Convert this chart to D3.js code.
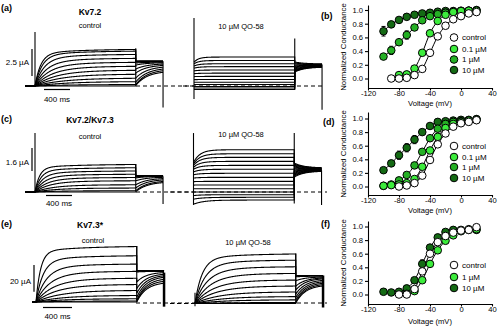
<!DOCTYPE html>
<html><head><meta charset="utf-8">
<script src="https://cdn.jsdelivr.net/npm/d3@7"></script>
<style>body{margin:0;background:#fff} svg{display:block;font-family:"Liberation Sans",Arial,sans-serif}</style>
</head><body><svg id="fig" width="500" height="328"></svg>
<script>
// ================= DATA: conductance-voltage (b, d, f) =================
const voltages = [-100,-90,-80,-70,-60,-50,-40,-30,-20,-10,0,10,20];
const xTicks = [-120,-80,-40,0,40];
const yTicks = [0,0.2,0.4,0.6,0.8,1.0];

const gvB_control = [null,0.0,0.0,0.01,0.05,0.14,0.375,0.615,0.77,0.865,0.91,0.95,0.97];
const gvB_01uM    = [null,null,0.05,0.06,0.145,0.375,0.66,0.84,0.93,0.97,0.985,0.99,0.99];
const gvB_1uM     = [0.32,0.41,0.53,0.635,0.745,0.85,0.91,0.94,0.96,0.975,0.98,0.99,1.0];
const gvB_10uM    = [0.69,0.79,0.855,0.90,0.93,0.95,0.96,0.975,0.985,0.985,0.99,0.99,0.99];
const errB_1uM    = [0.05,0.06,0.04,0.06,0.04,0.03,0.02,0.02,0.01,0.01,0.01,0.01,0.01];
const errB_10uM   = [0.07,0.03,0.03,0.02,0.02,0.02,0.01,0.01,0.01,0.01,0.01,0.01,0.01];

const gvD_control = [null,null,0.0,0.015,0.05,0.16,0.39,0.62,0.78,0.88,0.93,0.95,0.975];
const gvD_01uM    = [0.01,0.02,0.03,0.05,0.11,0.29,0.53,0.73,0.86,0.92,0.95,0.97,0.98];
const gvD_1uM     = [0.01,0.03,0.09,0.17,0.31,0.51,0.71,0.85,0.92,0.95,0.96,0.97,0.99];
const gvD_10uM    = [0.24,0.34,0.46,0.57,0.69,0.80,0.89,0.95,0.96,0.97,0.98,0.98,0.99];
const errD_10uM   = [0.04,0.05,0.06,0.06,0.06,0.04,0.03,0.02,0.01,0.01,0.01,0.01,0.01];

const gvF_control = [null,null,0.0,0.0,0.08,0.34,0.60,0.77,0.86,0.91,0.94,0.95,0.99];
const gvF_1uM     = [null,null,null,0.01,0.05,0.21,0.45,0.65,0.79,0.87,0.93,0.95,0.96];
const gvF_10uM    = [0.04,0.03,0.04,0.09,0.21,0.45,0.69,0.84,0.92,0.95,0.95,0.96,0.95];
const errF_10uM   = [0.01,0.01,0.01,0.02,0.03,0.06,0.04,0.03,0.02,0.01,0.01,0.01,0.01];

const legendB = ["control","0.1 \u00b5M","1 \u00b5M","10 \u00b5M"];
const legendD = ["control","0.1 \u00b5M","1 \u00b5M","10 \u00b5M"];
const legendF = ["control","1 \u00b5M","10 \u00b5M"];

// ================= DATA: current traces (a, c, e) =================
// protocol (ms)
const stepDur = 1550, tailDur = 420, slowTau = 700;
// Kv7.2 control (uA)
const a_ctrl_ss    = [3.43,3.27,2.96,2.59,2.22,1.85,1.48,1.11,0.74,0.42,0.14,0.0];
const a_ctrl_tau   = [90,110,140,175,215,260,310,360,420,480,520,550];
const a_ctrl_tail0 = [2.31,2.31,2.27,2.22,2.13,1.94,1.57,1.20,0.74,0.37,0.14,0.05];
const a_ctrl_tail1 = [2.31,2.31,2.29,2.27,2.22,2.17,2.08,1.98,1.85,1.70,1.55,1.40];
const a_ctrl_spikes = [[0,5.0,0],[1550,3.5,0.1],[1970,2.3,-2.0]];
// Kv7.2 10 uM QO-58
const a_qo_ss    = [2.68,2.36,2.06,1.79,1.48,1.19,0.89,0.60,0.35,0.14,-0.05,-0.19,-0.32];
const a_qo_init  = [2.20,2.05,1.85,1.65,1.40,1.14,0.87,0.59,0.35,0.14,-0.05,-0.19,-0.32];
const a_qo_tau   = [70,75,80,85,90,90,90,90,90,90,90,90,90];
const a_qo_tail0 = [2.22,2.13,2.04,1.94,1.85,1.76,1.67,1.57,1.48,1.43,1.39,1.34,1.30];
const a_qo_tail1 = [2.04,2.00,1.98,1.96,1.94,1.92,1.90,1.87,1.85,1.83,1.81,1.79,1.76];
const a_qo_spikes = [[0,6.3,-1.2],[1550,4.4,-0.3],[1970,2.0,-2.2]];
// Kv7.2/Kv7.3 control
const c_ctrl_ss    = [1.94,1.71,1.48,1.25,1.02,0.79,0.51,0.28,0.09,0.0];
const c_ctrl_tau   = [70,90,115,145,180,220,270,320,380,420];
const c_ctrl_tail0 = [1.15,1.13,1.10,1.06,0.98,0.78,0.50,0.28,0.09,0.02];
const c_ctrl_tail1 = [1.15,1.14,1.13,1.12,1.10,1.05,0.98,0.90,0.80,0.72];
const c_ctrl_spikes = [[0,4.1,0],[1550,1.94,0.05],[1970,1.1,-0.83]];
// Kv7.2/Kv7.3 10 uM QO-58
const c_qo_ss    = [2.94,2.66,2.41,2.13,1.85,1.58,1.30,1.02,0.74,0.49,0.23,0,-0.19,-0.37,-0.56];
const c_qo_init  = [2.05,1.95,1.85,1.72,1.58,1.40,1.20,0.97,0.72,0.48,0.23,0,-0.25,-0.50,-0.85];
const c_qo_tau   = [100,100,100,100,100,100,100,100,100,100,100,100,120,140,160];
const c_qo_tail0 = [2.01,1.94,1.88,1.81,1.74,1.67,1.60,1.53,1.46,1.39,1.32,1.25,1.18,1.11,1.04];
const c_qo_tail1 = [1.67,1.66,1.64,1.63,1.61,1.60,1.58,1.57,1.55,1.54,1.52,1.51,1.49,1.48,1.46];
const c_qo_spikes = [[0,4.1,-0.9],[1550,4.1,-0.8],[1970,1.5,-0.9]];
// Kv7.3* control
const e_ctrl_ss    = [42,35,28.7,23.2,18,13.3,8.8,5,2.5,0.75,0];
const e_ctrl_tau   = [70,110,160,210,260,310,360,400,440,480,500];
const e_ctrl_tail0 = [23.5,23.3,23,22.5,15,10,6.5,3.5,1.5,0.5,0];
const e_ctrl_tail1 = [23.5,23.5,23.3,23,22.5,21.5,20.5,19.5,18,16.5,15];
const e_ctrl_spikes = [[1550,42,0],[1970,22,-3.5]];
// Kv7.3* 10 uM QO-58
const e_qo_ss    = [37.5,32.8,27.8,22.8,17.8,13.3,8.8,5.3,2.8,0.75,0];
const e_qo_tau   = [110,150,190,230,270,310,350,390,430,470,500];
const e_qo_tail0 = [21,20.5,20,17,13,10,7,4.5,2.5,1,0.3];
const e_qo_tail1 = [21,20.8,20.5,20,19.5,19,18,17,16,15,14];
const e_qo_spikes = [[0,8,-2],[1550,37.5,0],[1970,21,-3]];

// ================= DRAWING =================
const svg = d3.select('#fig');
svg.append('rect').attr('width',500).attr('height',328).attr('fill','#fff');
const WHITE='#ffffff', LIGHT='#3cec3c', MED='#24b024', DARK='#146a14';

function drawTraces(p){
  const tx = d3.scaleLinear().domain([0,400]).range([p.x0, p.x0+26]);
  const iy = d3.scaleLinear().domain([0,p.barUA]).range([p.base, p.base-p.barPx]);
  const g = svg.append('g').attr('fill','none').attr('stroke','#000');
  const line = d3.line().x(d=>tx(d[0])).y(d=>iy(d[1]));
  p.ss.forEach((ss,i)=>{
    const init = p.init ? p.init[i] : 0;
    const tau = p.tau[i];
    const pts = [];
    if (p.hold) pts.push([-p.hold, 0]), pts.push([0,0]);
    for (let t=0;t<=stepDur;t+=5){
      const f = p.slow*Math.exp(-t/slowTau) + (1-p.slow)*Math.exp(-t/tau);
      pts.push([t, ss-(ss-init)*f]);
    }
    const a0=p.tail0[i], a1=p.tail1[i];
    for (let t=0;t<=tailDur;t+=5) pts.push([stepDur+t, a1+(a0-a1)*Math.exp(-t/p.tailTau)]);
    g.append('path').attr('d',line(pts)).attr('stroke-width',1.1);
  });
  p.spikes.forEach((s,k)=>{
    g.append('line').attr('x1',tx(s[0])).attr('x2',tx(s[0]))
      .attr('y1',iy(s[1])).attr('y2',iy(s[2])).attr('stroke-width', p.spikeW ? p.spikeW[k] : 1.1);
  });
  return {tx, iy};
}

function dashed(x1,x2,y){
  svg.append('line').attr('x1',x1).attr('x2',x2).attr('y1',y).attr('y2',y)
    .attr('stroke','#000').attr('stroke-width',1).attr('stroke-dasharray','4,3');
}
function scaleBar(xv, yTop, yBot, xh1, xh2, yh, vLabel, vLabelY, hLabelY){
  svg.append('line').attr('x1',xv).attr('x2',xv).attr('y1',yTop).attr('y2',yBot).attr('stroke','#000').attr('stroke-width',1.2);
  svg.append('line').attr('x1',xh1).attr('x2',xh2).attr('y1',yh).attr('y2',yh).attr('stroke','#000').attr('stroke-width',1.2);
  svg.append('text').attr('x',xv-3).attr('y',vLabelY).attr('text-anchor','end').attr('font-size',8).text(vLabel);
  svg.append('text').attr('x',(xh1+xh2)/2).attr('y',hLabelY).attr('text-anchor','middle').attr('font-size',8).text('400 ms');
}
function txt(x,y,s,opt={}){
  svg.append('text').attr('x',x).attr('y',y).attr('text-anchor',opt.anchor||'middle')
    .attr('font-size',opt.size||7.5).attr('font-weight',opt.bold?'bold':'normal').text(s);
}

// ---- Row a
const baseA = 86;
dashed(136, 322, baseA);
drawTraces({x0:35, base:baseA, barUA:2.5, barPx:27, hold:150, slow:0.12, ss:a_ctrl_ss, tau:a_ctrl_tau, tail0:a_ctrl_tail0, tail1:a_ctrl_tail1, tailTau:180, spikes:a_ctrl_spikes});
drawTraces({x0:194, base:baseA, barUA:2.5, barPx:27, slow:0.0, ss:a_qo_ss, init:a_qo_init, tau:a_qo_tau, tail0:a_qo_tail0, tail1:a_qo_tail1, tailTau:150, spikes:a_qo_spikes});
dashed(183, 194, baseA);
scaleBar(32, 49, 76, 44, 70, 89.5, '2.5 \u00b5A', 65, 102);
txt(90, 15, 'Kv7.2', {bold:true, size:8.5});
txt(90, 28, 'control');
txt(241, 29, '10 \u00b5M QO-58');
txt(1, 11, '(a)', {anchor:'start', bold:true, size:9});
txt(321, 19, '(b)', {anchor:'start', bold:true, size:9});

// ---- Row c
const baseC = 192;
dashed(136, 327, baseC);
drawTraces({x0:35, base:baseC, barUA:1.6, barPx:23, hold:150, slow:0.12, ss:c_ctrl_ss, tau:c_ctrl_tau, tail0:c_ctrl_tail0, tail1:c_ctrl_tail1, tailTau:180, spikes:c_ctrl_spikes});
drawTraces({x0:193.5, base:baseC, barUA:1.6, barPx:23, slow:0.0, ss:c_qo_ss, init:c_qo_init, tau:c_qo_tau, tail0:c_qo_tail0, tail1:c_qo_tail1, tailTau:150, spikes:c_qo_spikes});
dashed(170, 193, baseC);
scaleBar(32, 148, 171, 46, 72, 195.5, '1.6 \u00b5A', 165, 206);
txt(90, 123, 'Kv7.2/Kv7.3', {bold:true, size:8.5});
txt(90, 139, 'control');
txt(241, 137, '10 \u00b5M QO-58');
txt(1, 122, '(c)', {anchor:'start', bold:true, size:9});
txt(323, 125, '(d)', {anchor:'start', bold:true, size:9});

// ---- Row e
dashed(136, 327, 303);
drawTraces({x0:36, base:302, barUA:20, barPx:26.7, hold:60, slow:0.1, ss:e_ctrl_ss, tau:e_ctrl_tau, tail0:e_ctrl_tail0, tail1:e_ctrl_tail1, tailTau:150, spikes:e_ctrl_spikes, spikeW:[1.1,2.5]});
drawTraces({x0:195, base:303.5, barUA:20, barPx:26.7, slow:0.1, ss:e_qo_ss, tau:e_qo_tau, tail0:e_qo_tail0, tail1:e_qo_tail1, tailTau:150, spikes:e_qo_spikes, spikeW:[1.1,1.1,2.5]});
dashed(170, 195, 303.5);
scaleBar(34, 265, 291.7, 43, 72, 307.5, '20 \u00b5A', 284, 319);
txt(90, 228, 'Kv7.3*', {bold:true, size:8.5});
txt(93, 243, 'control');
txt(248, 245, '10 \u00b5M QO-58');
txt(1, 227, '(e)', {anchor:'start', bold:true, size:9});
txt(321, 227, '(f)', {anchor:'start', bold:true, size:9});

// ---- Conductance panels
function drawGV(cfg){
  const x = d3.scaleLinear().domain([-120,40]).range([368,492]);
  const y = d3.scaleLinear().domain([0,1]).range([cfg.y0, cfg.y1]);
  const yAx = y.copy().domain([y.invert(cfg.axisY), y.invert(cfg.topY)]).range([cfg.axisY, cfg.topY]);
  const g = svg.append('g');
  const ya = g.append('g').attr('transform','translate(368,0)')
    .call(d3.axisLeft(yAx).tickValues(yTicks).tickFormat(d3.format('.1f')).tickSize(3).tickSizeOuter(0).tickPadding(2));
  const xa = g.append('g').attr('transform',`translate(0,${cfg.axisY})`)
    .call(d3.axisBottom(x).tickValues(xTicks).tickFormat(d=>String(d)).tickSize(2.5).tickSizeOuter(0).tickPadding(0.5));
  [ya,xa].forEach(a=>{
    a.selectAll('text').attr('font-size',7.6).attr('font-family','"Liberation Sans",Arial,sans-serif').attr('fill','#000');
    a.selectAll('path,line').attr('stroke','#000').attr('stroke-width',1.1);
  });
  g.append('text').attr('transform',`translate(346,${cfg.axisY-41}) rotate(-90)`)
    .attr('text-anchor','middle').attr('font-size',7.8).text('Normalized Conductance');
  g.append('text').attr('x',430).attr('y',cfg.xlabY).attr('text-anchor','middle').attr('font-size',7.6).text('Voltage (mV)');
  const line = d3.line().x(d=>x(d[0])).y(d=>y(d[1])).curve(d3.curveMonotoneX);
  cfg.series.forEach(s=>{
    const pts = voltages.map((v,i)=>[v, s.values[i], s.err? s.err[i]:0]).filter(d=>d[1]!=null);
    g.append('path').attr('d',line(pts)).attr('fill','none').attr('stroke','#000').attr('stroke-width',1);
  });
  cfg.series.forEach(s=>{
    const pts = voltages.map((v,i)=>[v, s.values[i], s.err? s.err[i]:0]).filter(d=>d[1]!=null);
    pts.forEach(d=>{
      if (d[2]>0.055){
        g.append('line').attr('x1',x(d[0])).attr('x2',x(d[0])).attr('y1',y(d[1]-d[2])).attr('y2',y(d[1]+d[2])).attr('stroke','#000');
        [d[1]-d[2], d[1]+d[2]].forEach(v=>g.append('line').attr('x1',x(d[0])-2).attr('x2',x(d[0])+2).attr('y1',y(v)).attr('y2',y(v)).attr('stroke','#000'));
      }
    });
    g.selectAll(null).data(pts).join('circle').attr('cx',d=>x(d[0])).attr('cy',d=>y(d[1])).attr('r',3.8)
      .attr('fill',s.color).attr('stroke','#000').attr('stroke-width',1);
  });
  cfg.legend.forEach((lab,i)=>{
    g.append('circle').attr('cx',454).attr('cy',cfg.legY[i]).attr('r',3.8).attr('fill',cfg.legColors[i]).attr('stroke','#000').attr('stroke-width',1);
    g.append('text').attr('x',462).attr('y',cfg.legY[i]).attr('dy','0.35em').attr('font-size',8).text(lab);
  });
}

drawGV({y0:78.5, y1:10, axisY:88, topY:5, xlabY:105.5,
  series:[{values:gvB_10uM,color:DARK,err:errB_10uM},{values:gvB_1uM,color:MED,err:errB_1uM},{values:gvB_01uM,color:LIGHT},{values:gvB_control,color:WHITE}],
  legend:legendB, legY:[37.5,49,59.5,70], legColors:[WHITE,LIGHT,MED,DARK]});
drawGV({y0:186.5, y1:118.5, axisY:195, topY:112, xlabY:212.5,
  series:[{values:gvD_10uM,color:DARK,err:errD_10uM},{values:gvD_1uM,color:MED},{values:gvD_01uM,color:LIGHT},{values:gvD_control,color:WHITE}],
  legend:legendD, legY:[146,157,167,178], legColors:[WHITE,LIGHT,MED,DARK]});
drawGV({y0:294.5, y1:226.5, axisY:304, topY:221, xlabY:324,
  series:[{values:gvF_10uM,color:DARK,err:errF_10uM},{values:gvF_1uM,color:LIGHT},{values:gvF_control,color:WHITE}],
  legend:legendF, legY:[265,277,288], legColors:[WHITE,LIGHT,DARK]});
</script></body></html>
